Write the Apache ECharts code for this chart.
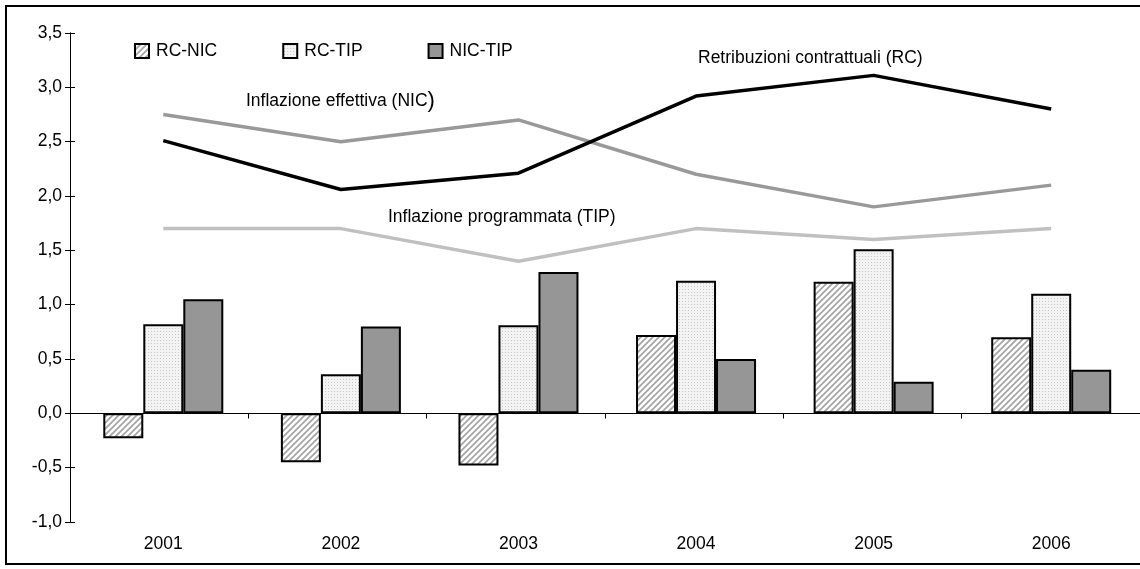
<!DOCTYPE html>
<html>
<head>
<meta charset="utf-8">
<script src="https://cdn.jsdelivr.net/npm/echarts@6/dist/echarts.min.js"></script>
<style>
html,body{margin:0;padding:0;background:#fff;}
#chart{width:1140px;height:569px;}
</style>
</head>
<body>
<div id="chart"></div>
<script>
const years = ['2001','2002','2003','2004','2005','2006'];
const rcNic = [-0.23, -0.45, -0.48, 0.72, 1.21, 0.70];
const rcTip = [0.82, 0.36, 0.81, 1.22, 1.51, 1.10];
const nicTip = [1.05, 0.80, 1.30, 0.50, 0.29, 0.40];
const rcLine = [2.51, 2.06, 2.21, 2.92, 3.11, 2.80];
const nicLine = [2.75, 2.50, 2.70, 2.20, 1.90, 2.10];
const tipLine = [1.70, 1.70, 1.40, 1.70, 1.60, 1.70];
const yTicks = {min: -1, max: 3.5, step: 0.5};

function hatch(){
  const c = document.createElement('canvas'); c.width = 6; c.height = 6;
  const g = c.getContext('2d');
  g.fillStyle = '#ffffff'; g.fillRect(0,0,6,6);
  g.strokeStyle = '#a4a4a4'; g.lineWidth = 1.7;
  g.beginPath();
  g.moveTo(-3,3); g.lineTo(3,-3);
  g.moveTo(0,6); g.lineTo(6,0);
  g.moveTo(3,9); g.lineTo(9,3);
  g.stroke();
  return c;
}
function dots(){
  const c = document.createElement('canvas'); c.width = 3; c.height = 3;
  const g = c.getContext('2d');
  g.fillStyle = '#f3f3f3'; g.fillRect(0,0,3,3);
  g.fillStyle = '#c8c8c8'; g.fillRect(1,1,1,1);
  return c;
}

const FONT = 'Liberation Sans, Arial, sans-serif';
const FS = 17.5;
const fmt = v => v.toFixed(1).replace('.', ',');

const chart = echarts.init(document.getElementById('chart'), null, {renderer: 'canvas'});
const barStyle = (fill) => ({color: fill, borderColor: '#000', borderWidth: 2});

chart.setOption({
  animation: false,
  backgroundColor: '#fff',
  textStyle: {fontFamily: FONT},
  legend: {
    data: ['RC-NIC', 'RC-TIP', 'NIC-TIP'],
    left: 129, top: 37,
    itemWidth: 14, itemHeight: 14, itemGap: 65,
    icon: 'rect',
    textStyle: {fontFamily: FONT, fontSize: FS, color: '#000', padding: [0,0,0,2]}
  },
  grid: [
    {left: 70, width: 1072, top: 33, bottom: 47},
    {left: 74.5, width: 1072, top: 33, bottom: 47}
  ],
  xAxis: [
    {gridIndex: 0, type: 'category', data: years, boundaryGap: true,
     axisLine: {onZero: true, lineStyle: {color: '#000', width: 1}},
     axisTick: {show: true, length: 5, inside: false, lineStyle: {color: '#000'}},
     axisLabel: {show: false}, splitLine: {show: false}},
    {gridIndex: 0, type: 'category', data: years, boundaryGap: true,
     axisLine: {onZero: true, lineStyle: {color: '#000', width: 1}},
     axisTick: {show: true, length: 5, inside: true, lineStyle: {color: '#000'}},
     axisLabel: {show: false}, splitLine: {show: false}},
    {gridIndex: 1, type: 'category', data: years, boundaryGap: true, position: 'bottom',
     axisLine: {show: false, onZero: false}, axisTick: {show: false},
     axisLabel: {show: true, color: '#000', fontSize: FS, fontFamily: FONT, margin: 13},
     splitLine: {show: false}}
  ],
  yAxis: [
    {gridIndex: 0, type: 'value', position: 'left', min: yTicks.min, max: yTicks.max, interval: yTicks.step,
     axisLine: {show: true, lineStyle: {color: '#000', width: 1}},
     axisTick: {show: true, length: 5, inside: false, lineStyle: {color: '#000'}},
     axisLabel: {color: '#000', fontSize: FS, fontFamily: FONT, margin: 8, formatter: fmt},
     splitLine: {show: false}},
    {gridIndex: 0, type: 'value', position: 'left', offset: 0, min: yTicks.min, max: yTicks.max, interval: yTicks.step,
     axisLine: {show: true, lineStyle: {color: '#000', width: 1}},
     axisTick: {show: true, length: 5, inside: true, lineStyle: {color: '#000'}},
     axisLabel: {show: false}, splitLine: {show: false}},
    {gridIndex: 1, type: 'value', min: yTicks.min, max: yTicks.max, interval: yTicks.step,
     show: false, splitLine: {show: false}}
  ],
  graphic: [
    {type: 'rect', shape: {x: 6, y: 6, width: 1160, height: 558},
     style: {fill: 'none', stroke: '#000', lineWidth: 2}, z: 100, silent: true},
    {type: 'text', left: 246, top: 90, z: 50,
     style: {text: 'Inflazione effettiva (NIC{p|)}', font: FS + 'px ' + FONT, fill: '#000',
             rich: {p: {fontSize: 22, fontFamily: FONT, fill: '#000'}}}},
    {type: 'text', left: 698, top: 49, z: 50,
     style: {text: 'Retribuzioni contrattuali (RC)', font: FS + 'px ' + FONT, fill: '#000'}},
    {type: 'text', left: 388, top: 208, z: 50,
     style: {text: 'Inflazione programmata (TIP)', font: FS + 'px ' + FONT, fill: '#000'}}
  ],
  series: [
    {name: 'RC-NIC', type: 'bar', xAxisIndex: 2, yAxisIndex: 2, data: rcNic,
     barWidth: 40, barGap: '0%', itemStyle: barStyle({image: hatch(), repeat: 'repeat'})},
    {name: 'RC-TIP', type: 'bar', xAxisIndex: 2, yAxisIndex: 2, data: rcTip,
     barWidth: 40, barGap: '0%', itemStyle: barStyle({image: dots(), repeat: 'repeat'})},
    {name: 'NIC-TIP', type: 'bar', xAxisIndex: 2, yAxisIndex: 2, data: nicTip,
     barWidth: 40, barGap: '0%', itemStyle: barStyle('#969696')},
    {name: 'RC', type: 'line', xAxisIndex: 2, yAxisIndex: 2, data: rcLine, showSymbol: false,
     lineStyle: {color: '#000', width: 3.5}, itemStyle: {color: '#000'}, z: 5},
    {name: 'NIC', type: 'line', xAxisIndex: 2, yAxisIndex: 2, data: nicLine, showSymbol: false,
     lineStyle: {color: '#999999', width: 3.5}, itemStyle: {color: '#999999'}, z: 4},
    {name: 'TIP', type: 'line', xAxisIndex: 2, yAxisIndex: 2, data: tipLine, showSymbol: false,
     lineStyle: {color: '#c0c0c0', width: 3.5}, itemStyle: {color: '#c0c0c0'}, z: 3}
  ]
});
</script>
</body>
</html>
